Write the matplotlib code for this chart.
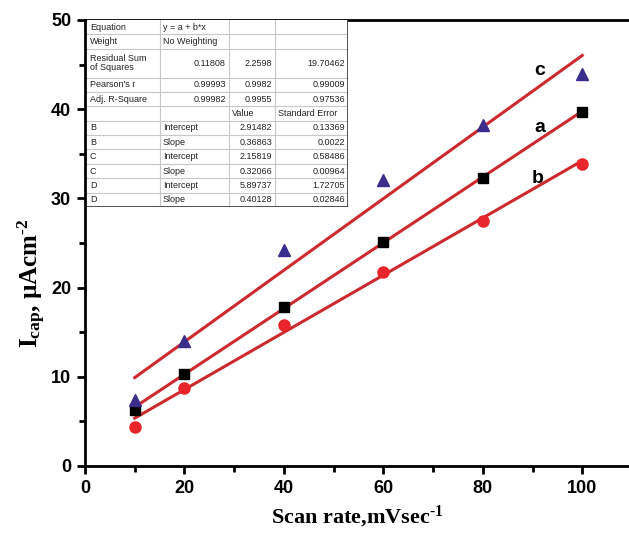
import numpy as np
from matplotlib import pyplot as plt

plt.rcParams['mathtext.fontset'] = 'custom'
plt.rcParams['mathtext.rm'] = 'Liberation Serif:bold'
plt.rcParams['mathtext.bf'] = 'Liberation Serif:bold'
plt.rcParams['mathtext.it'] = 'Liberation Serif:bold'
plt.rcParams['mathtext.default'] = 'bf'

# scan rate (mV/s) and capacitive current for three electrodes
scan_rate = [10, 20, 40, 60, 80, 100]
i_cap_a = [6.3, 10.3, 17.8, 25.1, 32.3, 39.7]
i_cap_b = [4.4, 8.8, 15.8, 21.8, 27.5, 33.9]
i_cap_c = [7.4, 14.0, 24.2, 32.1, 38.2, 44.0]

# linear fit results (B -> a, C -> b, D -> c)
intercepts = [2.91482, 2.15819, 5.89737]
slopes = [0.36863, 0.32066, 0.40128]

table_rows = [
    ["Equation", "y = a + b*x", "", ""],
    ["Weight", "No Weighting", "", ""],
    ["Residual Sum\nof Squares", "0.11808", "2.2598", "19.70462"],
    ["Pearson's r", "0.99993", "0.9982", "0.99009"],
    ["Adj. R-Square", "0.99982", "0.9955", "0.97536"],
    ["", "", "Value", "Standard Error"],
    ["B", "Intercept", "2.91482", "0.13369"],
    ["B", "Slope", "0.36863", "0.0022"],
    ["C", "Intercept", "2.15819", "0.58486"],
    ["C", "Slope", "0.32066", "0.00964"],
    ["D", "Intercept", "5.89737", "1.72705"],
    ["D", "Slope", "0.40128", "0.02846"],
]

fig = plt.figure(figsize=(6.29, 5.35), dpi=100)
ax = fig.add_axes([85 / 629, 1 - 466 / 535, 544 / 629, 446 / 535])

line_red = '#cc2a2e'
xfit = np.array([scan_rate[0], scan_rate[-1]])
for b0, b1 in zip(intercepts, slopes):
    ax.plot(xfit, b0 + b1 * xfit, color=line_red, lw=2.2, zorder=2)

ax.plot(scan_rate, i_cap_a, 's', color='black', ms=7, zorder=3)
ax.plot(scan_rate, i_cap_b, 'o', color='#e8252b', ms=8, zorder=3)
ax.plot(scan_rate, i_cap_c, '^', color='#3a2d8c', ms=9, zorder=3)

for lbl, (xx, yy) in zip(['a', 'b', 'c'], [(91.5, 38.0), (91.0, 32.2), (91.5, 44.3)]):
    ax.text(xx, yy, lbl, fontsize=14, fontweight='bold', family='Liberation Sans',
            ha='center', va='center')

ax.set_xlim(0, 109.4)
ax.set_ylim(0, 50)
ax.spines['right'].set_visible(False)
ax.set_xticks(np.arange(0, 101, 20))
ax.set_xticks(np.arange(10, 101, 20), minor=True)
ax.set_yticks(np.arange(0, 51, 10))
ax.set_yticks(np.arange(5, 50, 10), minor=True)
ax.tick_params(which='major', direction='out', length=6, width=2, pad=4)
ax.tick_params(which='minor', direction='out', length=4, width=2)
for sp in ax.spines.values():
    sp.set_linewidth(2)
for t in ax.get_xticklabels() + ax.get_yticklabels():
    t.set_fontsize(13)
    t.set_fontweight('bold')
    t.set_family('Liberation Sans')

ax.set_xlabel(r'Scan rate,mVsec$^{\text{-1}}$', fontsize=16, fontweight='bold',
              family='Liberation Serif', labelpad=5)
ax.set_ylabel('I$_{\\text{cap}}$, \u00b5Acm$^{\\text{-2}}$', fontsize=18, fontweight='bold',
              family='Liberation Serif', labelpad=0)
ax.yaxis.set_label_coords(-0.068, 0.41)

# fit statistics table, drawn in pixel coordinates
tx0, tx1, ty0, ty1 = 87, 348, 20, 207
tab = fig.add_axes([tx0 / 629, 1 - ty1 / 535, (tx1 - tx0) / 629, (ty1 - ty0) / 535], zorder=5)
tab.set_xlim(tx0, tx1)
tab.set_ylim(ty1, ty0)
tab.axis('off')
tab.add_patch(plt.Rectangle((tx0, ty0), tx1 - tx0, ty1 - ty0, color='white', zorder=0))
cols = [tx0, 160, 229, 275, tx1]
unit = (ty1 - ty0) / 13
row_y = [ty0]
for r in table_rows:
    row_y.append(row_y[-1] + unit * (2 if '\n' in r[0] else 1))
for y in row_y[1:-1]:
    tab.plot([tx0, tx1], [y, y], color='#c8c8c8', lw=0.8)
for x in cols[1:-1]:
    tab.plot([x, x], [ty0, ty1], color='#c8c8c8', lw=0.8)
tab.plot([tx1, tx1, tx0], [ty0, ty1, ty1], color='#333333', lw=1.2)
for i, r in enumerate(table_rows):
    yc = (row_y[i] + row_y[i + 1]) / 2
    for j, s in enumerate(r):
        if not s:
            continue
        if j == 0 or i < 2 or (j == 1 and i > 5) or i == 5:
            x, ha = cols[j] + 3, 'left'
        else:
            x, ha = cols[j + 1] - 3, 'right'
        tab.text(x, yc, s, fontsize=6.5, ha=ha, va='center', color='#222222',
                 family='Liberation Sans', linespacing=1.0)

fig.savefig('out.png', dpi=100)
